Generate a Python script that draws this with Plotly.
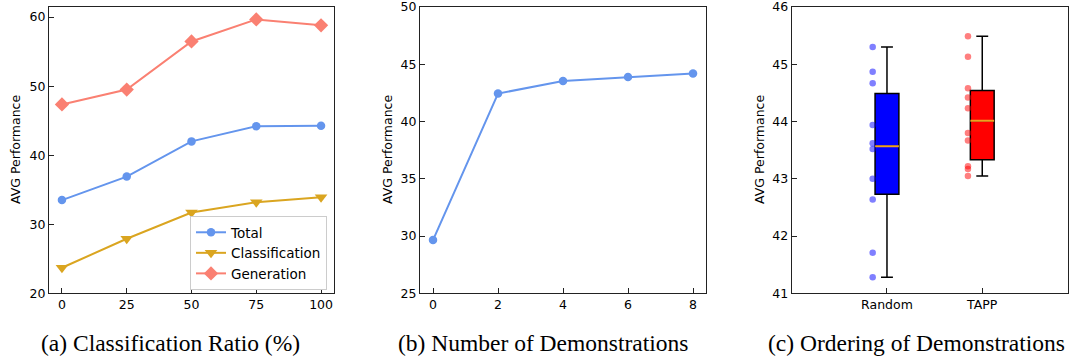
import numpy as np
import plotly.graph_objects as go

# ---------------- data ----------------
ratio_x = [0, 25, 50, 75, 100]
total_vals = [33.5, 36.9, 42.0, 44.2, 44.25]
classification_vals = [23.7, 27.9, 31.7, 33.2, 33.9]
generation_vals = [47.35, 49.5, 56.47, 59.66, 58.8]

demo_x = [0, 2, 4, 6, 8]
demo_vals = [29.65, 42.44, 43.54, 43.89, 44.2]

order_labels = ["Random", "TAPP"]
random_vals = [45.30, 44.87, 44.67, 43.94, 43.62, 43.52, 43.00, 42.64, 41.71, 41.28]
tapp_vals = [45.49, 45.13, 44.58, 44.42, 44.23, 43.80, 43.67, 43.22, 43.17, 43.05]

captions = ["(a) Classification Ratio (%)", "(b) Number of Demonstrations",
            "(c) Ordering of Demonstrations"]

# ---------------- layout helpers ----------------
W, H = 1069, 357
def xd(a, b):
    return [a / W, b / W]
def yd(top, bottom):
    return [1 - bottom / H, 1 - top / H]

FONT = "DejaVu Sans"
axis_common = dict(
    showline=True, linecolor="#222", linewidth=1, mirror=True,
    ticks="inside", ticklen=5, tickwidth=1, tickcolor="#222",
    showgrid=False, zeroline=False, automargin=False,
    ticklabeloverflow="allow",
    tickfont=dict(family=FONT, size=12.5, color="black"),
)

fig = go.Figure()

# Panel (a)
fig.add_trace(go.Scatter(x=ratio_x, y=total_vals, name="Total", mode="lines+markers",
                         line=dict(color="#6495ED", width=2),
                         marker=dict(symbol="circle", size=8.5, color="#6495ED"),
                         xaxis="x", yaxis="y"))
fig.add_trace(go.Scatter(x=ratio_x, y=classification_vals, name="Classification",
                         mode="lines+markers",
                         line=dict(color="#DAA520", width=2),
                         marker=dict(symbol="triangle-down", size=11, color="#DAA520"),
                         xaxis="x", yaxis="y"))
fig.add_trace(go.Scatter(x=ratio_x, y=generation_vals, name="Generation",
                         mode="lines+markers",
                         line=dict(color="#FA8072", width=2),
                         marker=dict(symbol="diamond", size=11, color="#FA8072"),
                         xaxis="x", yaxis="y"))

# Panel (b)
fig.add_trace(go.Scatter(x=demo_x, y=demo_vals, mode="lines+markers", showlegend=False,
                         line=dict(color="#6495ED", width=2),
                         marker=dict(symbol="circle", size=8.5, color="#6495ED"),
                         xaxis="x2", yaxis="y2"))

# Panel (c): boxes with matplotlib-style (linear interpolation) quartiles
box_width = 0.25
point_offset = 0.15
box_specs = [
    (1, random_vals, "blue", "rgba(0,0,255,0.5)"),
    (2, tapp_vals, "red", "rgba(255,0,0,0.5)"),
]
for pos, vals, fill, pcol in box_specs:
    arr = np.array(vals)
    q1, med, q3 = np.percentile(arr, [25, 50, 75])
    iqr = q3 - q1
    lo = float(arr[arr >= q1 - 1.5 * iqr].min())
    hi = float(arr[arr <= q3 + 1.5 * iqr].max())
    fig.add_trace(go.Box(x=[pos], q1=[q1], median=[med], q3=[q3],
                         lowerfence=[lo], upperfence=[hi], width=box_width,
                         fillcolor=fill, line=dict(color="black", width=1.5),
                         whiskerwidth=0.5, boxpoints=False,
                         showlegend=False, xaxis="x3", yaxis="y3"))
    fig.add_trace(go.Scatter(x=[pos - box_width / 2, pos + box_width / 2], y=[med, med],
                             mode="lines", line=dict(color="#F0A020", width=2),
                             showlegend=False, hoverinfo="skip",
                             xaxis="x3", yaxis="y3"))
    fig.add_trace(go.Scatter(x=[pos - point_offset] * len(vals), y=vals, mode="markers",
                             marker=dict(color=pcol, size=6.5, line=dict(width=0)),
                             showlegend=False, xaxis="x3", yaxis="y3"))

fig.update_layout(
    width=W, height=H,
    margin=dict(l=0, r=0, t=0, b=0),
    paper_bgcolor="white", plot_bgcolor="white",
    font=dict(family=FONT, size=12, color="black"),
    xaxis=dict(domain=xd(49, 334), range=[-5, 105], tickvals=ratio_x, anchor="y",
               **axis_common),
    yaxis=dict(domain=yd(7, 293.3), range=[20, 61.46], tickvals=[20, 30, 40, 50, 60],
               anchor="x", **axis_common),
    xaxis2=dict(domain=xd(420, 706), range=[-0.4, 8.4], tickvals=demo_x, anchor="y2",
                **axis_common),
    yaxis2=dict(domain=yd(7, 293.3), range=[25, 50], tickvals=[25, 30, 35, 40, 45, 50],
                anchor="x2", **axis_common),
    xaxis3=dict(domain=xd(791.7, 1068), range=[0, 2.9], tickvals=[1, 2],
                ticktext=order_labels, anchor="y3", **axis_common),
    yaxis3=dict(domain=yd(7, 293.3), range=[41, 46], tickvals=[41, 42, 43, 44, 45, 46],
                anchor="x3", **axis_common),
    legend=dict(x=190 / W, y=1 - 216 / H, xanchor="left", yanchor="top",
                bgcolor="white", bordercolor="#cccccc", borderwidth=1,
                font=dict(family=FONT, size=13.5, color="black"),
                tracegroupgap=0),
    showlegend=True,
)

# y-axis titles
for tx in [15, 387, 759]:
    fig.add_annotation(text="AVG Performance", x=tx / W, y=1 - 150 / H,
                       xref="paper", yref="paper", textangle=-90,
                       xanchor="center", yanchor="middle", showarrow=False,
                       font=dict(family=FONT, size=12.5, color="black"))

cap_x = [170, 543, 916]
for cx, txt in zip(cap_x, captions):
    fig.add_annotation(text=txt, x=cx / W, y=1 - 343 / H, xref="paper", yref="paper",
                       xanchor="center", yanchor="middle", showarrow=False,
                       font=dict(family="Liberation Serif", size=23.5, color="black"))

fig.write_html("out.html",
               config={"displayModeBar": False},
               post_script="document.body.style.margin='0px';"
                           "document.body.style.overflow='hidden';")
